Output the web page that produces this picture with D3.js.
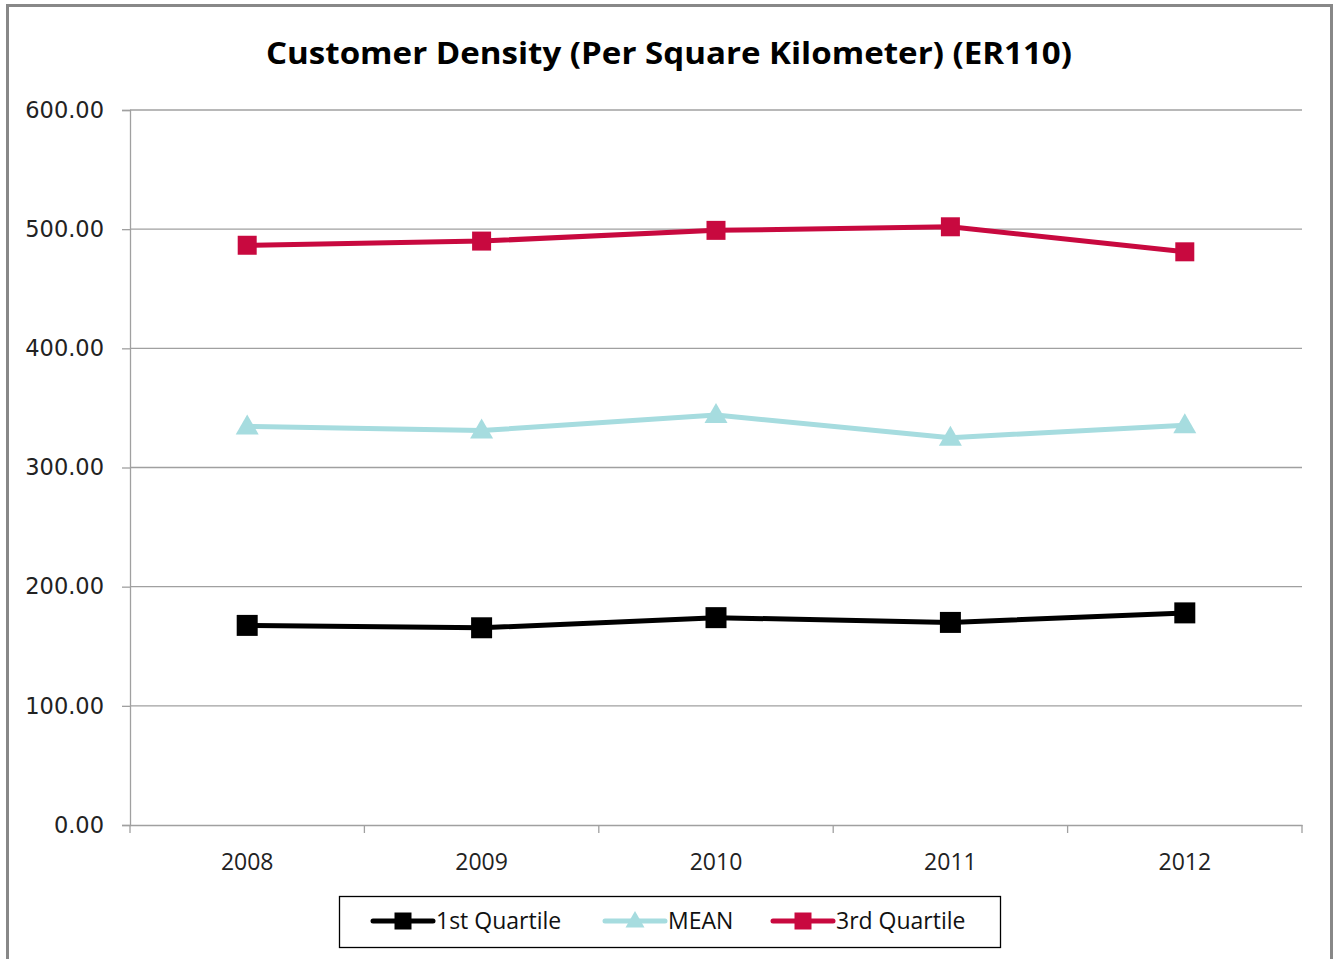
<!DOCTYPE html>
<html>
<head>
<meta charset="utf-8">
<script src="https://cdn.jsdelivr.net/npm/d3@7"></script>
<style>
  body { margin: 0; background: #fff; }
  svg { display: block; }
</style>
</head>
<body>
<div id="chart"></div>
<script>
// data
const years = ["2008", "2009", "2010", "2011", "2012"];
const firstQuartile = [167.5, 165.5, 174.0, 170.0, 178.0];
const mean = [334.5, 331.0, 344.0, 325.0, 335.5];
const thirdQuartile = [486.5, 490.0, 499.0, 502.0, 481.0];
const yTicks = [0, 100, 200, 300, 400, 500, 600];

const series = [
  {name: "1st Quartile", values: firstQuartile, color: "#000000", marker: "square", size: 21},
  {name: "MEAN", values: mean, color: "#A6DCDF", marker: "triangle", size: 23},
  {name: "3rd Quartile", values: thirdQuartile, color: "#C8093F", marker: "square", size: 19}
];

let width = 1333, height = 959;
let margin = {top: 110, right: 31, bottom: 134, left: 130};
let innerWidth = width - margin.left - margin.right;
let innerHeight = height - margin.top - margin.bottom;

let svg = d3.select("#chart").append("svg")
  .attr("width", width)
  .attr("height", height);

// outer frame (bottom edge falls outside the picture)
svg.append("path")
  .attr("d", "M7.5,959V5.5H1331.5V959")
  .attr("fill", "none")
  .attr("stroke", "#888").attr("stroke-width", 3);

// title
svg.append("text")
  .attr("x", 669).attr("y", 64)
  .attr("text-anchor", "middle")
  .attr("font-family", "'Open Sans', sans-serif")
  .attr("font-weight", "bold")
  .attr("font-size", 30)
  .attr("textLength", 806)
  .attr("lengthAdjust", "spacingAndGlyphs")
  .text("Customer Density (Per Square Kilometer) (ER110)");

let g = svg.append("g")
  .attr("transform", "translate(" + margin.left + "," + margin.top + ")");

let xScale = d3.scaleBand().domain(years).range([0, innerWidth]);
let yScale = d3.scaleLinear().domain([0, 600]).range([innerHeight, 0]);

// gridlines
g.selectAll(".grid")
  .data(yTicks.filter(d => d > 0))
  .join("line")
  .attr("class", "grid")
  .attr("x1", 0).attr("x2", innerWidth)
  .attr("y1", d => yScale(d)).attr("y2", d => yScale(d))
  .attr("stroke", "#a0a0a0").attr("stroke-width", 1.3);

// y axis
let yAxis = d3.axisLeft(yScale).tickValues(yTicks).tickFormat(d3.format(".2f")).tickSize(8).tickPadding(18);
let yG = g.append("g").attr("class", "y-axis").call(yAxis);
yG.select(".domain").attr("stroke", "#a0a0a0").attr("stroke-width", 1.3);
yG.selectAll(".tick line").attr("stroke", "#a0a0a0").attr("stroke-width", 1.3);
yG.selectAll(".tick text")
  .attr("font-family", "'DejaVu Sans', sans-serif")
  .attr("font-size", 22.5)
  .attr("fill", "#222");

// x axis, ticks at band edges
let xAxis = d3.axisBottom(xScale).tickSize(0).tickPadding(29);
let xG = g.append("g").attr("class", "x-axis")
  .attr("transform", "translate(0," + innerHeight + ")")
  .call(xAxis);
xG.select(".domain").attr("stroke", "#a0a0a0").attr("stroke-width", 1.3);
xG.selectAll(".tick text")
  .attr("font-family", "'Open Sans', sans-serif")
  .attr("font-size", 23)
  .attr("fill", "#222");
let edges = years.map(d => xScale(d)).concat([innerWidth]);
xG.selectAll(".edge")
  .data(edges)
  .join("line")
  .attr("class", "edge")
  .attr("x1", d => d).attr("x2", d => d)
  .attr("y1", 0).attr("y2", 8)
  .attr("stroke", "#a0a0a0").attr("stroke-width", 1.3);

function markerPath(type, s) {
  if (type === "square") {
    return "M" + (-s / 2) + "," + (-s / 2) + "h" + s + "v" + s + "h" + (-s) + "Z";
  }
  let h = s * 0.87;
  return "M0," + (-h * 0.6) + "L" + (s / 2) + "," + (h * 0.4) + "L" + (-s / 2) + "," + (h * 0.4) + "Z";
}

let cx = i => xScale(years[i]) + xScale.bandwidth() / 2;
let line = d3.line().x((d, i) => cx(i)).y(d => yScale(d));

series.forEach(s => {
  let sg = g.append("g").attr("class", "series");
  sg.append("path")
    .datum(s.values)
    .attr("d", line)
    .attr("fill", "none")
    .attr("stroke", s.color)
    .attr("stroke-width", 5)
    .attr("stroke-linejoin", "round");
  sg.selectAll(".pt")
    .data(s.values)
    .join("path")
    .attr("class", "pt")
    .attr("transform", (d, i) => "translate(" + cx(i) + "," + yScale(d) + ")")
    .attr("d", markerPath(s.marker, s.size))
    .attr("fill", s.color);
});

// legend
let legend = svg.append("g").attr("class", "legend");
legend.append("rect")
  .attr("x", 339.5).attr("y", 896.5)
  .attr("width", 661).attr("height", 51)
  .attr("fill", "#fff").attr("stroke", "#000").attr("stroke-width", 1.3);

let legendX = [373, 605, 773];
series.forEach((s, i) => {
  let lg = legend.append("g").attr("transform", "translate(" + legendX[i] + ",921)");
  lg.append("line")
    .attr("x1", 0).attr("x2", 60)
    .attr("stroke", s.color).attr("stroke-width", 5).attr("stroke-linecap", "round");
  lg.append("path")
    .attr("transform", "translate(30,0)")
    .attr("d", markerPath(s.marker, s.marker === "square" ? 17 : 19))
    .attr("fill", s.color);
  lg.append("text")
    .attr("x", 63).attr("y", 8)
    .attr("font-family", "'Open Sans', sans-serif")
    .attr("font-size", 23)
    .attr("fill", "#111")
    .text(s.name);
});
</script>
</body>
</html>
